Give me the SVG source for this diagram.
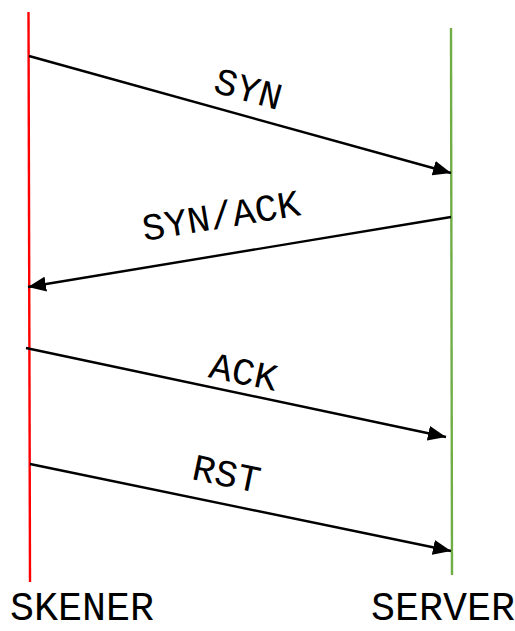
<svg xmlns="http://www.w3.org/2000/svg" width="515" height="631" viewBox="0 0 515 631">
<defs>
<marker id="ah" markerUnits="userSpaceOnUse" markerWidth="19" markerHeight="15" refX="18" refY="7.5" orient="auto">
<path d="M0,0 L18,7.5 L0,15 Z" fill="#000"/>
</marker>
<style>
.msg{stroke:#000;stroke-width:2.4;fill:none;marker-end:url(#ah)}
.lbl{font-family:"Courier New",Courier,"Nimbus Mono PS","FreeMono","Liberation Mono",monospace;font-size:38px;fill:#000}
.name{font-family:"Courier New",Courier,"Nimbus Mono PS","FreeMono","Liberation Mono",monospace;font-size:40px;fill:#000}
</style>
</defs>
<rect width="515" height="631" fill="#fff"/>
<g id="skener">
<line x1="28.5" y1="12" x2="30" y2="582" stroke="#ff0000" stroke-width="2.4"/>
<text class="name" x="10" y="620">SKENER</text>
</g>
<g id="server">
<line x1="451" y1="28" x2="452" y2="575" stroke="#70ad47" stroke-width="2.4"/>
<text class="name" x="371" y="620">SERVER</text>
</g>
<g id="connectors">
<line class="msg" x1="29" y1="56" x2="451" y2="173"/>
<line class="msg" x1="451" y1="217" x2="28" y2="287"/>
<line class="msg" x1="26" y1="348" x2="446" y2="437"/>
<line class="msg" x1="30" y1="464" x2="451" y2="551"/>
<text class="lbl" text-anchor="middle" transform="translate(245,101) rotate(15.5)">SYN</text>
<text class="lbl" text-anchor="middle" transform="translate(223,228) rotate(-9.4)">SYN/ACK</text>
<text class="lbl" text-anchor="middle" transform="translate(241,384) rotate(12)">ACK</text>
<text class="lbl" text-anchor="middle" transform="translate(224,486) rotate(11.7)">RST</text>
</g>
</svg>
